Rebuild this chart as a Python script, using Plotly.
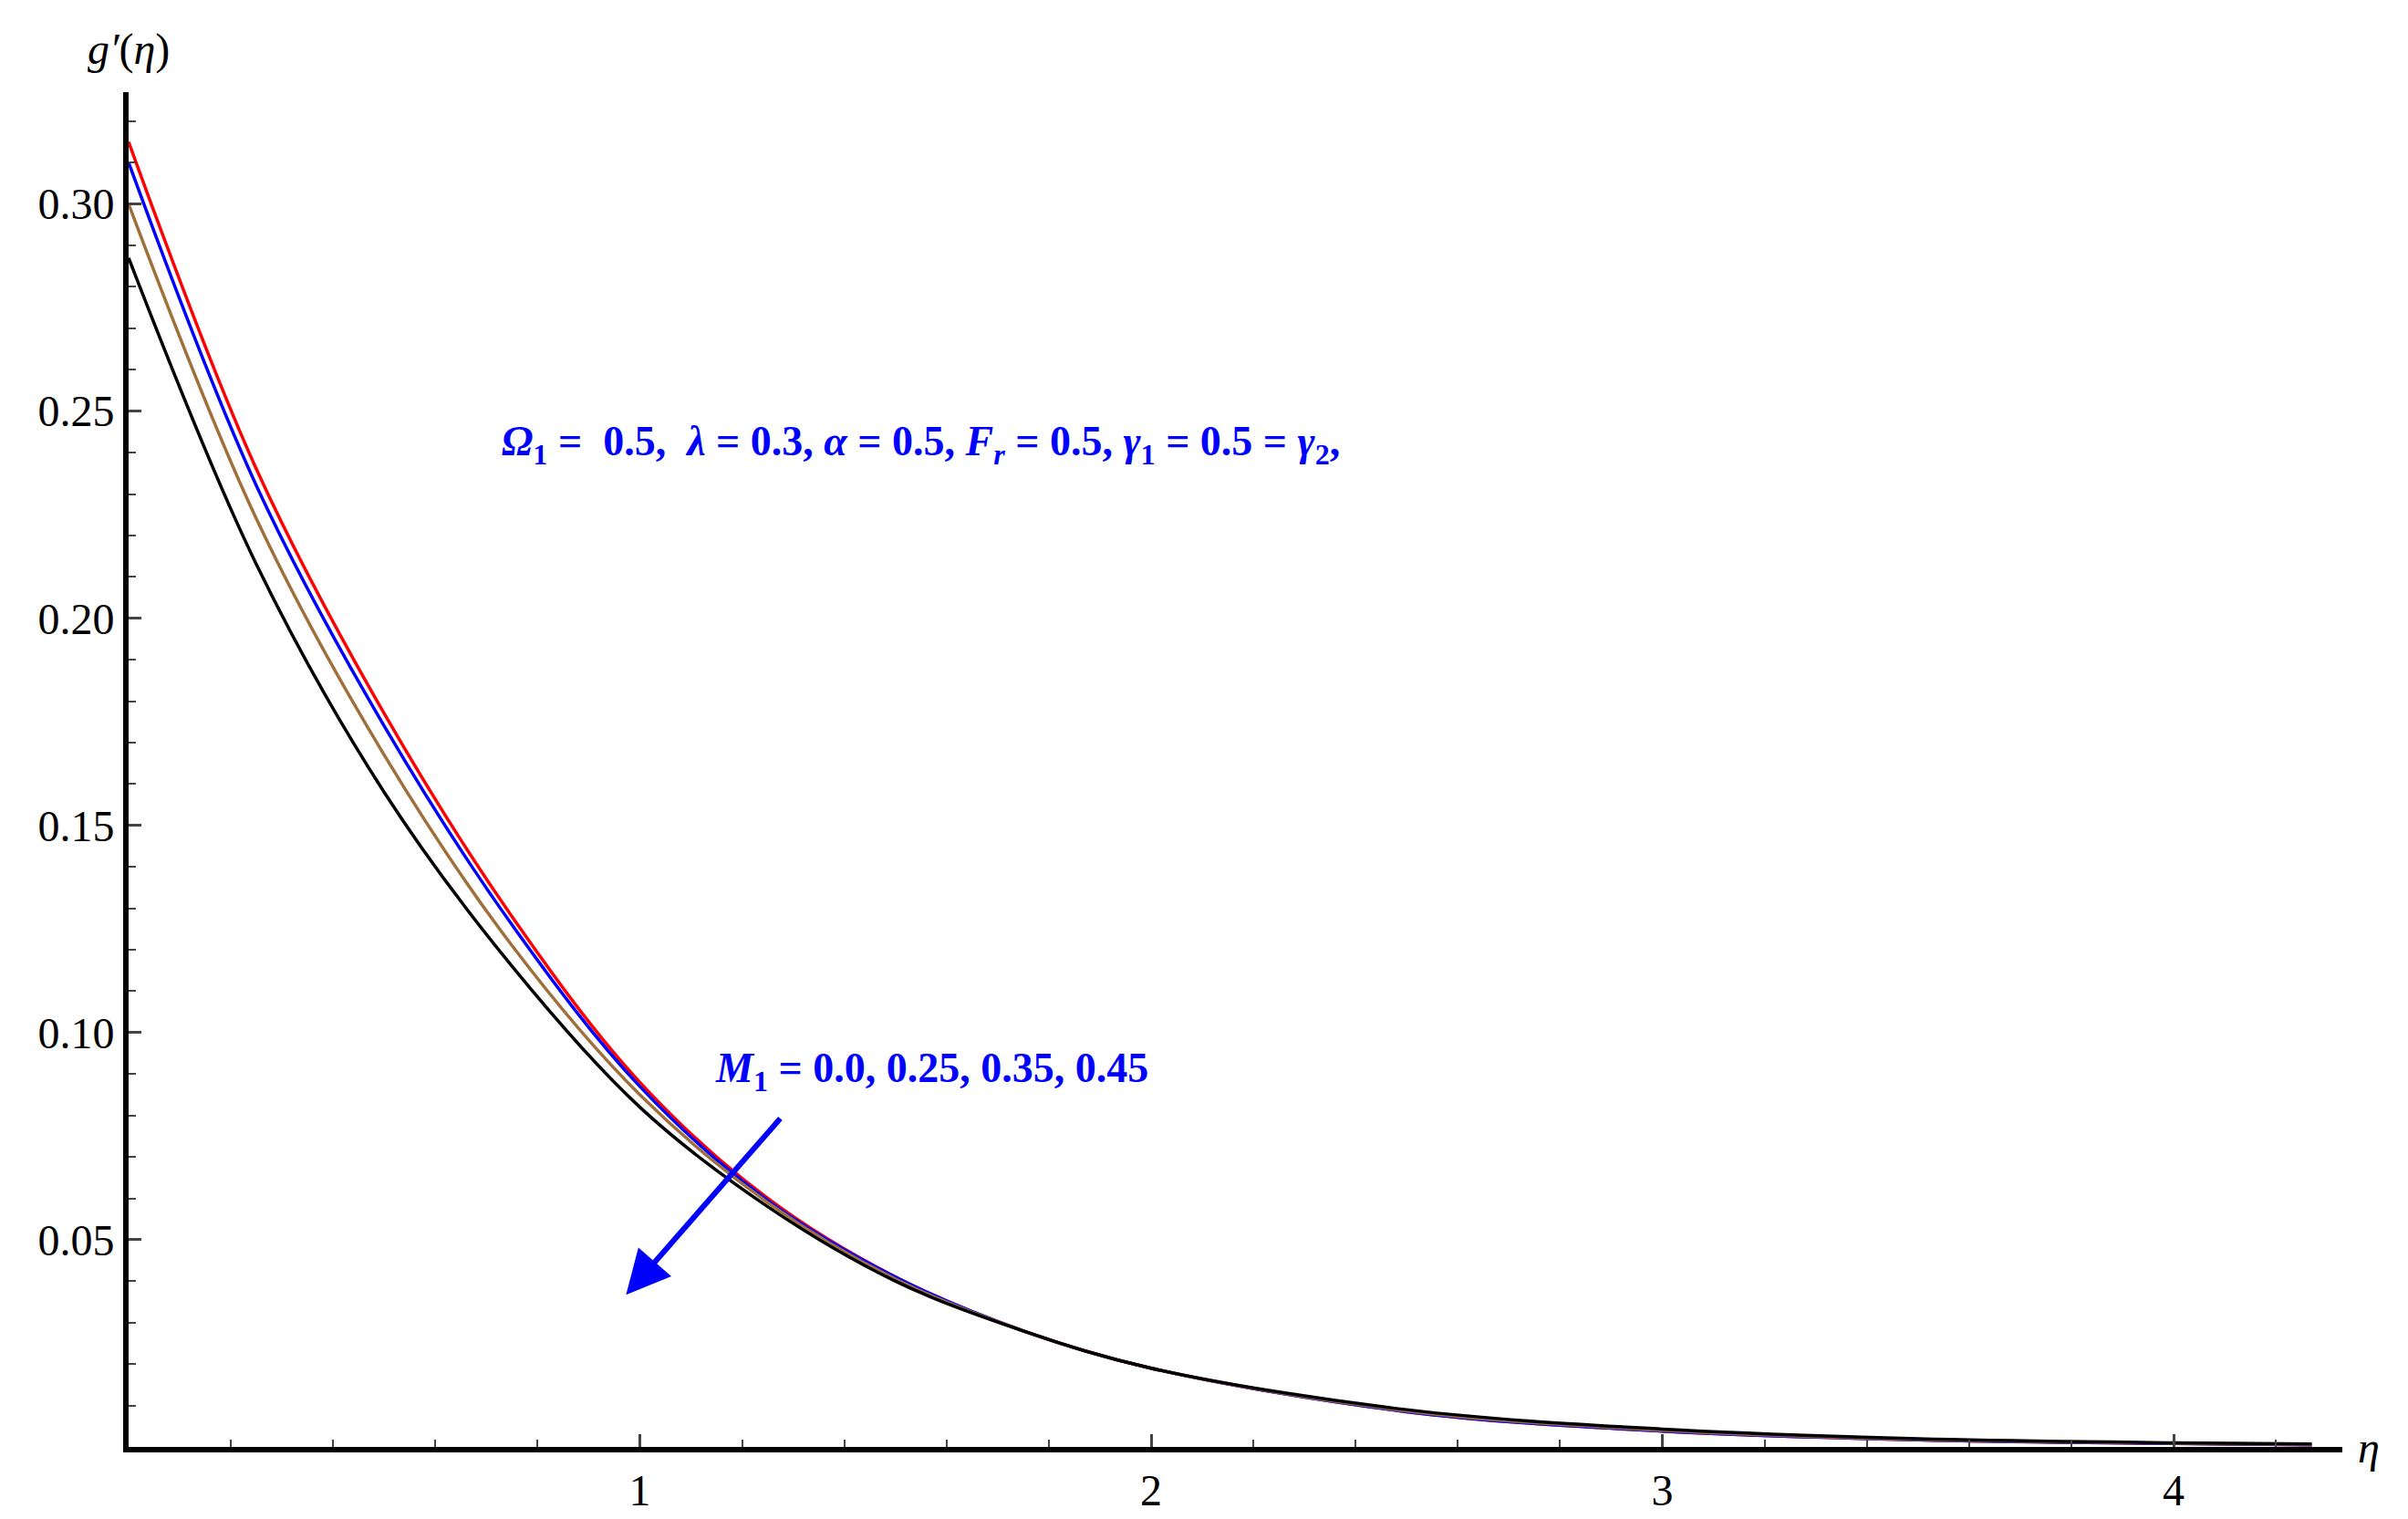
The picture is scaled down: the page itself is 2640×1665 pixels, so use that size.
import plotly.graph_objects as go

eta = [0, 0.25, 0.5, 0.75, 1, 1.25, 1.5, 1.75, 2, 2.5, 3, 3.5, 4, 4.27]
red = [.315, .236, .177, .128, .088, .060, .041, .028, .019, .0085, .0038, .0017, .0008, .0005]
blue = [.310, .232, .174, .126, .087, .0595, .041, .028, .019, .0085, .0038, .0017, .0008, .0005]
brown = [.300, .224, .167, .121, .085, .059, .0405, .028, .019, .0087, .0040, .0018, .0009, .0006]
black = [.287, .213, .158, .116, .082, .058, .040, .028, .019, .0090, .0043, .0020, .0010, .0007]
series = [("red", red), ("blue", blue), ("#a0703c", brown), ("black", black)]
xticks = [1, 2, 3, 4]
yticks = [0.05, 0.10, 0.15, 0.20, 0.25, 0.30]
ylabels = ["0.05", "0.10", "0.15", "0.20", "0.25", "0.30"]

fig = go.Figure()
for c, v in series:
    fig.add_trace(go.Scatter(x=eta, y=v, mode="lines", line=dict(color=c, width=3.5, shape="spline"), showlegend=False))

font = dict(family="Liberation Serif", size=48, color="black")
fig.update_layout(
    width=2640, height=1665, plot_bgcolor="white", paper_bgcolor="white",
    margin=dict(l=133, r=80, t=93, b=87), font=font,
    xaxis=dict(range=[0, 4.33], tickvals=xticks, ticks="inside", ticklen=14, tickwidth=3,
               showline=True, linewidth=6, linecolor="black", showgrid=False, zeroline=False,
               minor=dict(ticks="inside", ticklen=8, tickwidth=2, dtick=0.2)),
    yaxis=dict(range=[0, 0.327], tickvals=yticks, ticktext=ylabels, ticks="inside", ticklen=14, tickwidth=3,
               showline=True, linewidth=6, linecolor="black", showgrid=False, zeroline=False,
               minor=dict(ticks="inside", ticklen=8, tickwidth=2, dtick=0.01)),
)
bf = dict(family="Liberation Serif", size=46, color="blue")
fig.add_annotation(x=1.55, y=0.242, xref="x", yref="y", showarrow=False, font=bf,
                   text="<b><i>Ω</i><sub>1</sub> =  0.5,  <i>λ</i> = 0.3, <i>α</i> = 0.5, <i>F<sub>r</sub></i> = 0.5, <i>γ</i><sub>1</sub> = 0.5 = <i>γ</i><sub>2</sub>,</b>")
fig.add_annotation(x=1.57, y=0.0907, xref="x", yref="y", showarrow=False, font=bf,
                   text="<b><i>M</i><sub>1</sub> = 0.0, 0.25, 0.35, 0.45</b>")
fig.add_annotation(x=0.973, y=0.0367, ax=1.277, ay=0.0796, xref="x", yref="y", axref="x", ayref="y",
                   text="", showarrow=True, arrowhead=2, arrowsize=1.6, arrowwidth=6, arrowcolor="blue")
fig.add_annotation(x=0, y=1, xref="paper", yref="paper", xanchor="center", yanchor="bottom", yshift=18,
                   showarrow=False, font=font, text="<i>g′</i>(<i>η</i>)")
fig.add_annotation(x=1, y=0, xref="paper", yref="paper", xanchor="left", yanchor="middle", xshift=15,
                   showarrow=False, font=font, text="<i>η</i>")
fig.write_html("out.html")
